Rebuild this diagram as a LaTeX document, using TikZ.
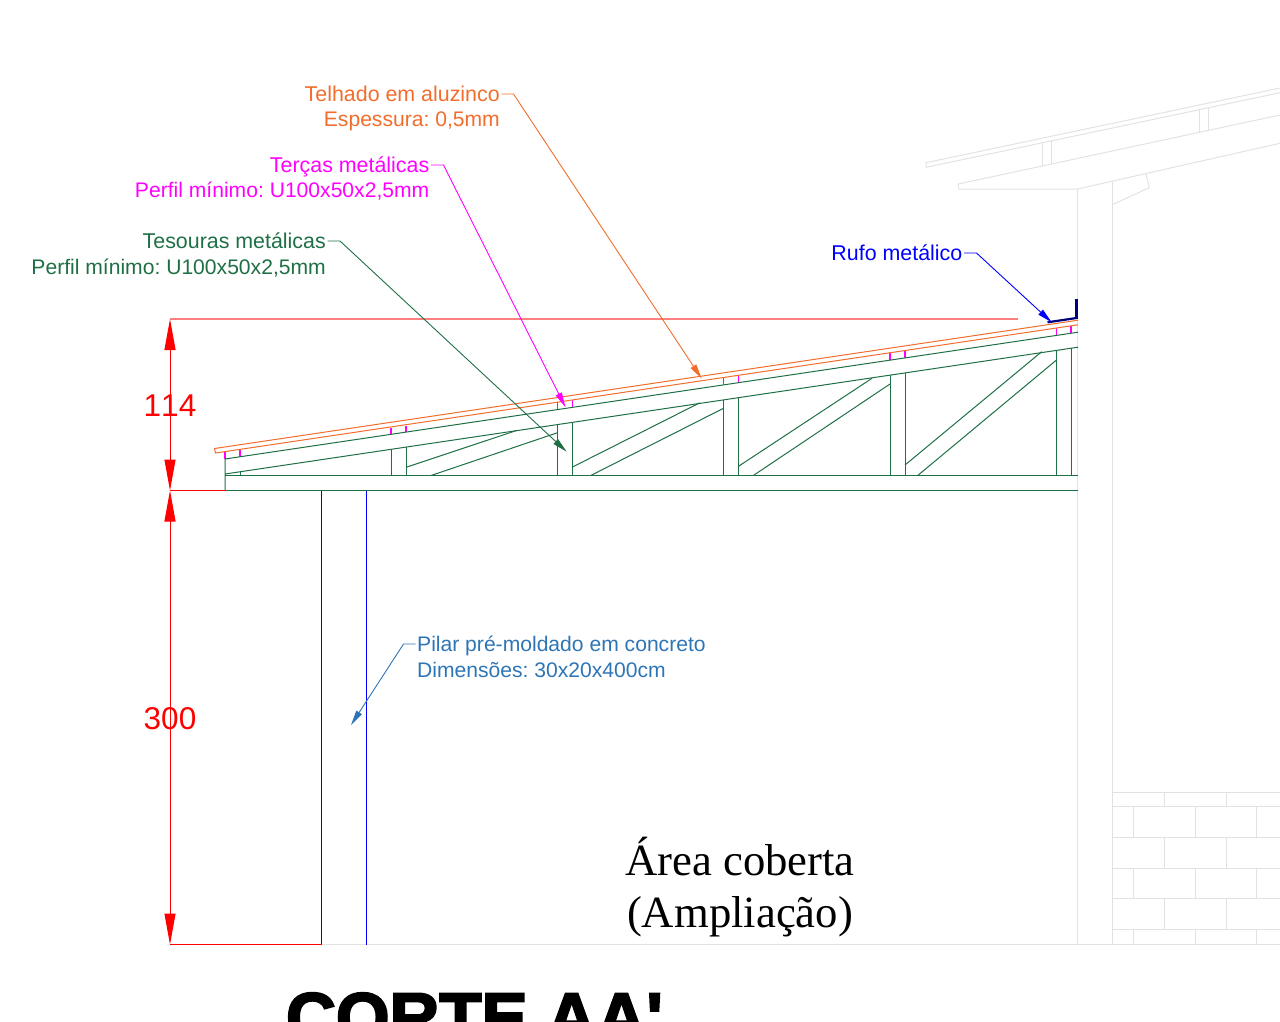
\documentclass[tikz,border=0pt]{standalone}
\usepackage{fontspec}
\setmainfont{Liberation Sans}
\newfontfamily\serifa{Liberation Serif}
\newfontfamily\cortefont[FakeBold=3]{Liberation Sans Bold}
\usepackage{tikz}
\usetikzlibrary{arrows.meta, positioning}
\definecolor{telhacor}{HTML}{F26D2B}
\definecolor{trelica}{HTML}{1F6F45}
\definecolor{pilarcor}{HTML}{2E75B6}
\definecolor{paredecor}{HTML}{E2E2E2}
\definecolor{rufocor}{HTML}{00007F}
\definecolor{tercacor}{HTML}{FF00FF}
\definecolor{cotacor}{HTML}{FF0000}
\definecolor{cotaclara}{HTML}{FF7F7F}
\frenchspacing
\tikzset{
    lbl/.style={font=\fontsize{21.4}{25}\selectfont, inner sep=1.5pt, text height=17pt, text depth=3pt},
    lblb/.style={lbl, font=\fontsize{21.1}{25}\selectfont},
    leader/.style={line width=0.9pt, -{Triangle[length=15pt,width=6.5pt]}},
    cota/.style={cotacor, line width=1pt},
    cotaseta/.style={cotacor, line width=1pt, {Triangle[length=31pt,width=11pt]}-{Triangle[length=31pt,width=11pt]}},
    parede/.style={paredecor, line width=1pt},
    verde/.style={trelica, line width=1pt},
    terca/.style={tercacor, line width=1.4pt}
}
\begin{document}
\begin{tikzpicture}[x=1pt,y=-1pt]
    \useasboundingbox (0,0) rectangle (1280,1021);

    % Upper roof and wall (background)
    \draw[parede] (926,162.7) -- (1280,88) (926,162.7) -- (926,167.3) -- (1280,92.7);
    \draw[parede] (958.3,189) -- (958.3,184) -- (1280,115);
    \draw[parede] (1042.3,142.7) -- (1042.3,165.7) (1051.3,141) -- (1051.3,163.7);
    \draw[parede] (1199.3,110) -- (1199.3,132.3) (1208.3,108) -- (1208.3,130.3);
    \draw[parede] (958.3,189) -- (1077.5,189) -- (1280,143.3);
    \draw[parede] (1146,173.7) -- (1149.3,187.7) -- (1112.5,204.5);
    \draw[parede] (1077.5,189) -- (1077.5,944.5);
    \draw[parede] (1112.5,181) -- (1112.5,944.5);
    \draw[parede] (321.5,944.5) -- (1280,944.5);

    % Brick wall
    \foreach \yb in {792.7,806.7,837.3,868.3,898.7,929.3}
        \draw[parede] (1112.5,\yb) -- (1280,\yb);
    \foreach \xb in {1164.3,1226} {
        \draw[parede] (\xb,792.7) -- (\xb,806.7);
        \draw[parede] (\xb,837.3) -- (\xb,868.3);
        \draw[parede] (\xb,898.7) -- (\xb,929.3);
    }
    \foreach \xb in {1133.7,1195.3,1256.7} {
        \draw[parede] (\xb,806.7) -- (\xb,837.3);
        \draw[parede] (\xb,868.3) -- (\xb,898.7);
        \draw[parede] (\xb,929.3) -- (\xb,944.5);
    }

    % Pillar
    \draw[blue, line width=1pt] (321.5,490.5) -- (321.5,944.5);
    \draw[blue, line width=1pt] (366.5,490.5) -- (366.5,944.5);

    % Purlins
    \draw[terca] (225,451.6) -- (225,459) (240,449.4) -- (240,456.8);
    \draw[terca] (391,428.4) -- (391,434.3) (406,426.2) -- (406,432.1);
    \draw[terca] (557.5,402.2) -- (557.5,409.6) (572.5,400) -- (572.5,407.4);
    \draw[terca] (723.5,377.5) -- (723.5,384.9) (738.5,375.3) -- (738.5,382.7);
    \draw[terca] (890,352.8) -- (890,360.2) (905,350.5) -- (905,358);
    \draw[terca] (1056.5,328) -- (1056.5,335.4) (1071,325.9) -- (1071,333.3);

    % Truss chords
    \draw[verde] (225,490.5) -- (225,459) -- (1078,332.2);
    \draw[verde] (225,474) -- (1078,347.2);
    \draw[verde] (225,475.5) -- (1078,475.5);
    \draw[verde] (225,490.5) -- (1078,490.5);
    \draw[verde] (240,471.8) -- (240,475.5);

    % Truss posts
    \draw[verde] (391,449.3) -- (391,475.5) (406,447.1) -- (406,475.5);
    \draw[verde] (557.5,424.6) -- (557.5,475.5) (572.5,422.4) -- (572.5,475.5);
    \draw[verde] (723.5,399.9) -- (723.5,475.5) (738.5,397.7) -- (738.5,475.5);
    \draw[verde] (890,375.2) -- (890,475.5) (905,373) -- (905,475.5);
    \draw[verde] (1056.5,350.4) -- (1056.5,475.5) (1071,348.3) -- (1071,475.5);

    % Truss diagonals
    \draw[verde] (406,467.3) -- (516,430.7) (431,475.5) -- (557.5,432.7);
    \draw[verde] (572.5,467) -- (700,402.7) (590.7,475.5) -- (723.5,408.3);
    \draw[verde] (738.5,466.3) -- (872,378.3) (753.3,475.5) -- (890,384);
    \draw[verde] (905,465) -- (1041.7,351.7) (917.7,475.5) -- (1056.5,360);

    % Roof sheet
    \draw[telhacor, line width=1pt] (1078,320.2) -- (214.5,448.5) -- (215.5,453) -- (1078,324.8);

    % Flashing
    \draw[rufocor, line width=2.2pt] (1047.5,322.3) -- (1076.5,318);
    \draw[rufocor, line width=3pt] (1076.5,318.8) -- (1076.5,299);

    % Level dimensions
    \coordinate (cotatopo) at (170,319);
    \coordinate (cotameio) at (170,490.5);
    \coordinate (cotabase) at (170,944.5);
    \draw[cotaclara, line width=2pt] (cotatopo) -- (1018,319);
    \draw[cota] (cotameio) -- (225,490.5);
    \draw[cota] (cotabase) -- (321.5,944.5);
    \draw[cotaseta] (cotatopo) -- (cotameio);
    \draw[cotaseta] (cotameio) -- (cotabase);
    \node[cotacor, font=\fontsize{31.5}{32}\selectfont, inner sep=0pt] (cota114) at (170,406) {1\kern0pt 14};
    \node[cotacor, font=\fontsize{31.5}{32}\selectfont, inner sep=0pt] (cota300) at (170,719) {300};

    % Callouts
    \node[lbl, telhacor, anchor=east] (telhado) at (501.5,94) {Telhado em aluzinco};
    \node[lblb, telhacor, anchor=east] (espessura) at (501.5,119) {Espessura: 0,5mm};
    \coordinate (telhadotip) at (701.7,378.7);
    \draw[leader, telhacor] (telhado.east) -- ++(12,0) -- (telhadotip);

    \node[lbl, tercacor, anchor=east] (tercas) at (431,165) {Terças metálicas};
    \node[lblb, tercacor, anchor=east] (tercasperfil) at (431,190) {Perfil mínimo: U100x50x2,5mm};
    \coordinate (tercastip) at (565.5,407.3);
    \draw[leader, tercacor] (tercas.east) -- ++(12.5,0) -- (tercastip);

    \node[lbl, trelica, anchor=east] (tesouras) at (327.5,241) {Tesouras metálicas};
    \node[lblb, trelica, anchor=east] (tesourasperfil) at (327.5,267) {Perfil mínimo: U100x50x2,5mm};
    \coordinate (tesourastip) at (566.7,451.7);
    \draw[leader, trelica] (tesouras.east) -- ++(12.5,0) -- (tesourastip);

    \node[lbl, blue, anchor=east] (rufo) at (964,253) {Rufo metálico};
    \coordinate (rufotip) at (1051.7,322.3);
    \draw[leader, blue] (rufo.east) -- ++(12.5,0) -- (rufotip);

    \node[lblb, pilarcor, anchor=west] (pilar) at (415.5,644) {Pilar pré-moldado em concreto};
    \node[lblb, pilarcor, anchor=west] (pilardim) at (415.5,670) {Dimensões: 30x20x400cm};
    \coordinate (pilartip) at (351,725);
    \draw[leader, pilarcor] (pilar.west) -- ++(-12,0) -- (pilartip);

    % Titles
    \node[font=\serifa\fontsize{44.7}{46}\selectfont, inner sep=0pt, anchor=base] (area) at (740,875) {Área coberta};
    \node[font=\serifa\fontsize{44.7}{46}\selectfont, inner sep=0pt, anchor=base] (ampliacao) at (740,927) {(Ampliação)};
    \node[font=\cortefont\fontsize{69}{72}\selectfont, inner sep=0pt, anchor=base] (corte) at (474.5,1041) {CORTE AA'};
\end{tikzpicture}
\end{document}
